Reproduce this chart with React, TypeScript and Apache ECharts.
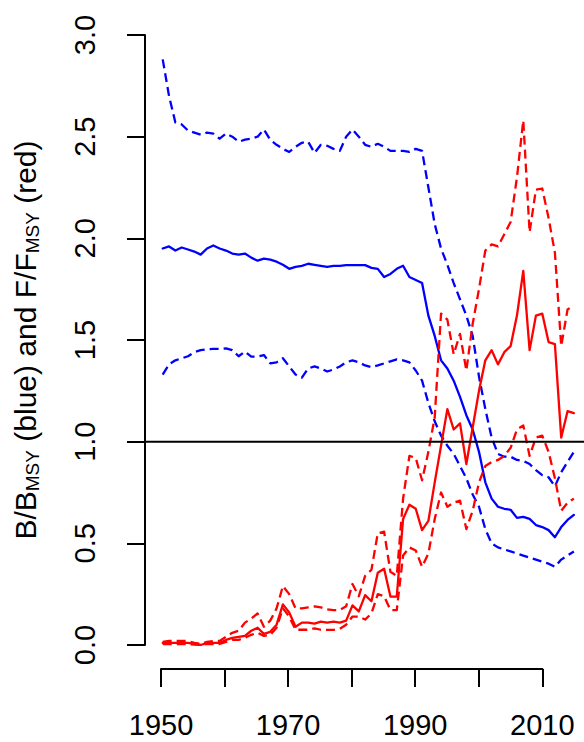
import React, { useEffect, useRef } from "react";
import * as echarts from "echarts";

const years = [
  1950, 1951, 1952, 1953, 1954, 1955, 1956, 1957, 1958, 1959,
  1960, 1961, 1962, 1963, 1964, 1965, 1966, 1967, 1968, 1969,
  1970, 1971, 1972, 1973, 1974, 1975, 1976, 1977, 1978, 1979,
  1980, 1981, 1982, 1983, 1984, 1985, 1986, 1987, 1988, 1989,
  1990, 1991, 1992, 1993, 1994, 1995, 1996, 1997, 1998, 1999,
  2000, 2001, 2002, 2003, 2004, 2005, 2006, 2007, 2008, 2009,
  2010, 2011, 2012, 2013, 2014, 2015,
];

// B/BMSY (blue)
const bMid = [
  1.95, 1.96, 1.94, 1.955, 1.945, 1.935, 1.92, 1.95, 1.965, 1.95,
  1.94, 1.925, 1.92, 1.925, 1.905, 1.89, 1.9, 1.895, 1.885, 1.87,
  1.85, 1.86, 1.865, 1.875, 1.87, 1.865, 1.86, 1.865, 1.865, 1.868,
  1.868, 1.868, 1.868, 1.855, 1.85, 1.81, 1.825, 1.85, 1.865, 1.81,
  1.795, 1.78, 1.62, 1.52, 1.4, 1.36, 1.3, 1.22, 1.13, 1.06,
  0.95, 0.8, 0.72, 0.68, 0.67, 0.665, 0.625, 0.63, 0.62, 0.59,
  0.58, 0.565, 0.53, 0.58, 0.615, 0.64,
];
const bHi = [
  2.88, 2.7, 2.57, 2.56, 2.53, 2.52, 2.51, 2.52, 2.515, 2.49,
  2.515, 2.5, 2.475, 2.485, 2.49, 2.5, 2.535, 2.485, 2.46, 2.44,
  2.425, 2.45, 2.47, 2.475, 2.42, 2.46, 2.455, 2.44, 2.43, 2.5,
  2.535, 2.5, 2.46, 2.45, 2.465, 2.45, 2.43, 2.43, 2.43, 2.425,
  2.44, 2.43, 2.25, 2.07, 1.95, 1.87, 1.78, 1.7, 1.62, 1.52,
  1.32, 1.16, 1.02, 0.94, 0.926, 0.926, 0.91, 0.905, 0.89, 0.86,
  0.835, 0.825, 0.78, 0.85, 0.9, 0.95,
];
const bLo = [
  1.33, 1.38, 1.4, 1.41, 1.42, 1.44, 1.45, 1.455, 1.456, 1.456,
  1.459, 1.45, 1.42, 1.443, 1.418, 1.418, 1.426, 1.385, 1.39, 1.41,
  1.37, 1.33, 1.315, 1.36, 1.37, 1.36, 1.345, 1.355, 1.37, 1.39,
  1.4, 1.39, 1.375, 1.366, 1.375, 1.385, 1.395, 1.405, 1.4, 1.39,
  1.35, 1.3, 1.19, 1.1, 1.03, 0.98, 0.94, 0.88, 0.82, 0.74,
  0.68, 0.57, 0.5, 0.48, 0.47, 0.46, 0.45, 0.44, 0.43, 0.42,
  0.41, 0.4, 0.385, 0.42, 0.44, 0.46,
];

// F/FMSY (red)
const fMid = [
  0.01, 0.01, 0.01, 0.01, 0.01, 0.005, 0.0, 0.01, 0.01, 0.01,
  0.025, 0.035, 0.04, 0.045, 0.07, 0.085, 0.055, 0.065, 0.1, 0.2,
  0.16, 0.09, 0.11, 0.11, 0.105, 0.115, 0.11, 0.115, 0.11, 0.12,
  0.195, 0.165, 0.245, 0.215, 0.355, 0.375, 0.238, 0.238, 0.62, 0.69,
  0.67, 0.565, 0.61, 0.8, 0.98, 1.16, 1.06, 1.09, 0.89, 1.07,
  1.25, 1.4, 1.45, 1.38, 1.44, 1.47, 1.62, 1.84, 1.45, 1.62,
  1.63, 1.49, 1.48, 1.02, 1.15, 1.14,
];
const fHi = [
  0.015, 0.02, 0.02, 0.02, 0.02, 0.01, 0.005, 0.015, 0.02, 0.02,
  0.04, 0.06, 0.07, 0.11, 0.13, 0.155, 0.09, 0.12, 0.18, 0.29,
  0.25, 0.18, 0.18, 0.185, 0.19, 0.185, 0.175, 0.172, 0.172, 0.19,
  0.3, 0.24, 0.34, 0.37, 0.55, 0.557, 0.36, 0.34, 0.72, 0.93,
  0.92, 0.81, 0.95, 1.12, 1.63, 1.6, 1.43, 1.53, 1.35, 1.58,
  1.75, 1.94, 1.97, 1.96, 2.02, 2.08, 2.3, 2.58, 2.03, 2.24,
  2.245, 2.1, 1.93, 1.47, 1.65, 1.67,
];
const fLo = [
  0.005, 0.005, 0.005, 0.005, 0.005, 0.002, 0.0, 0.005, 0.005, 0.005,
  0.015, 0.025, 0.025, 0.035, 0.05, 0.06, 0.045, 0.05, 0.085, 0.18,
  0.14, 0.075, 0.075, 0.075, 0.082, 0.075, 0.074, 0.074, 0.08, 0.1,
  0.14, 0.14, 0.125, 0.155, 0.25, 0.24, 0.172, 0.172, 0.44, 0.48,
  0.465, 0.385, 0.45, 0.62, 0.75, 0.68, 0.7, 0.71, 0.57, 0.66,
  0.8, 0.88, 0.9, 0.91, 0.93, 0.97, 1.06, 1.08, 0.93, 1.02,
  1.03, 0.95, 0.82, 0.66, 0.7, 0.72,
];

const refLevel = [1, 1];
const refYears = [1947.2, 2016.6];
const xLabelYears = [1950, 1970, 1990, 2010];

const FONT = "'Liberation Sans', Arial, Helvetica, sans-serif";

function pairs(vals: number[]) {
  return years.map((y, i) => [y, vals[i]]);
}

function lineSeries(name: string, vals: number[], color: string, dashed: boolean) {
  return {
    name,
    type: "line",
    xAxisIndex: 0,
    yAxisIndex: 0,
    data: pairs(vals),
    showSymbol: false,
    symbol: "none",
    silent: true,
    lineStyle: {
      color,
      width: 2.3,
      type: dashed ? [9, 5] : "solid",
      cap: dashed ? "butt" : "round",
      join: "round",
    },
  };
}

export default function App() {
  const ref = useRef<HTMLDivElement>(null);
  useEffect(() => {
    const chart = echarts.init(ref.current as HTMLDivElement, null, { renderer: "svg" });
    chart.setOption({
      animation: false,
      backgroundColor: "#ffffff",
      grid: [
        { left: 143, top: 35, right: 0, height: 610 },
        { left: 161, top: 35, width: 381.3, height: 634 },
      ],
      xAxis: [
        { gridIndex: 0, type: "value", min: refYears[0], max: refYears[1], show: false },
        {
          gridIndex: 1,
          type: "value",
          min: 1950,
          max: 2010,
          interval: 10,
          axisLine: { show: true, onZero: false, lineStyle: { color: "#000", width: 2 } },
          axisTick: { show: true, length: 18, lineStyle: { color: "#000", width: 2 } },
          splitLine: { show: false },
          axisLabel: {
            margin: 41,
            fontSize: 29,
            color: "#000",
            fontFamily: FONT,
            formatter: (v: number) => (xLabelYears.includes(v) ? String(v) : ""),
          },
        },
      ],
      yAxis: [
        {
          gridIndex: 0,
          type: "value",
          min: 0,
          max: 3,
          interval: 0.5,
          axisLine: { show: true, onZero: false, lineStyle: { color: "#000", width: 2 } },
          axisTick: { show: true, length: 18, lineStyle: { color: "#000", width: 2 } },
          splitLine: { show: false },
          axisLabel: {
            rotate: 90,
            margin: 46,
            fontSize: 29,
            color: "#000",
            fontFamily: FONT,
            formatter: (v: number) => v.toFixed(1),
          },
          name: "B/B{s|MSY} (blue) and F/F{s|MSY} (red)",
          nameLocation: "middle",
          nameRotate: 90,
          nameGap: 103,
          nameTextStyle: {
            fontSize: 30,
            lineHeight: 34,
            color: "#000",
            fontFamily: FONT,
            rich: {
              s: { fontSize: 19, lineHeight: 18, verticalAlign: "bottom", color: "#000", fontFamily: FONT },
            },
          },
        },
        { gridIndex: 1, type: "value", min: 0, max: 1, show: false },
      ],
      series: [
        lineSeries("B upper", bHi, "#0000ff", true),
        lineSeries("B", bMid, "#0000ff", false),
        lineSeries("B lower", bLo, "#0000ff", true),
        lineSeries("F upper", fHi, "#ff0000", true),
        lineSeries("F", fMid, "#ff0000", false),
        lineSeries("F lower", fLo, "#ff0000", true),
        {
          name: "ref",
          type: "line",
          xAxisIndex: 0,
          yAxisIndex: 0,
          data: refYears.map((y, i) => [y, refLevel[i]]),
          showSymbol: false,
          symbol: "none",
          silent: true,
          lineStyle: { color: "#000", width: 2 },
        },
      ],
    });
    return () => chart.dispose();
  }, []);
  return (
    <div
      ref={ref}
      style={{ position: "fixed", left: 0, top: 0, width: 584, height: 742, background: "#fff" }}
    />
  );
}
